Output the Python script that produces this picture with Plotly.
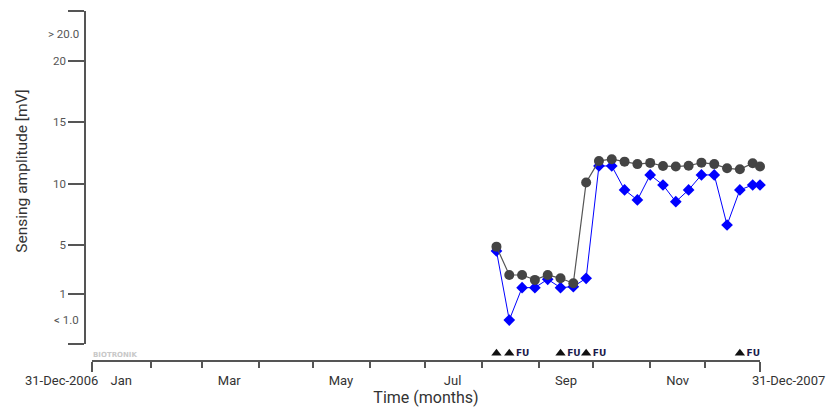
import plotly.graph_objects as go

# ---- data ----
dates = ["2007-08-09", "2007-08-16", "2007-08-23", "2007-08-30", "2007-09-06",
         "2007-09-13", "2007-09-20", "2007-09-27", "2007-10-04", "2007-10-11",
         "2007-10-18", "2007-10-25", "2007-11-01", "2007-11-08", "2007-11-15",
         "2007-11-22", "2007-11-29", "2007-12-06", "2007-12-13", "2007-12-20",
         "2007-12-27", "2007-12-31"]
gray_vals = [4.88, 2.57, 2.57, 2.17, 2.57, 2.3, 1.9, 10.1, 11.86, 12.0, 11.8,
             11.6, 11.7, 11.45, 11.4, 11.47, 11.72, 11.6, 11.26, 11.18, 11.67, 11.4]
blue_vals = [4.53, 0.5, 1.54, 1.54, 2.22, 1.54, 1.62, 2.3, 11.45, 11.45, 9.5,
             8.68, 10.72, 9.9, 8.54, 9.5, 10.72, 10.72, 6.64, 9.5, 9.9, 9.9]

fu_dates = ["2007-08-09", "2007-08-16", "2007-09-13", "2007-09-27", "2007-12-20"]
fu_labels = ["", "FU", "FU", "FU", "FU"]

y_tick_vals = [1, 5, 10, 15, 20]
y_tick_text = ["1", "5", "10", "15", "20"]
LOW_ROW, LOW_TEXT = -1.1, "< 1.0"
HIGH_ROW, HIGH_TEXT = 22.2, "> 20.0"
Y_MIN, Y_MAX = -3.05, 24.07

x_start, x_end = "2006-12-31", "2007-12-31"
x_start_text, x_end_text = "31-Dec-2006", "31-Dec-2007"
month_starts = ["2007-02-01", "2007-03-01", "2007-04-01", "2007-05-01", "2007-06-01",
                "2007-07-01", "2007-08-01", "2007-09-01", "2007-10-01", "2007-11-01",
                "2007-12-01"]
month_label_dates = ["2007-01-16", "2007-03-16", "2007-05-16", "2007-07-16",
                     "2007-09-16", "2007-11-16"]
month_labels = ["Jan", "Mar", "May", "Jul", "Sep", "Nov"]


def row(v):
    if v < 1:
        return LOW_ROW
    if v > 20:
        return HIGH_ROW
    return v


FONT = "Roboto"
AX = "#555555"

fig = go.Figure()
fig.add_trace(go.Scatter(
    x=dates, y=[row(v) for v in blue_vals], mode="lines+markers",
    line=dict(color="#0000ff", width=1),
    marker=dict(symbol="diamond", size=9, color="#0000ff"),
    xaxis="x", yaxis="y", showlegend=False, cliponaxis=False))
fig.add_trace(go.Scatter(
    x=dates, y=[row(v) for v in gray_vals], mode="lines+markers",
    line=dict(color="#555555", width=1.2),
    marker=dict(symbol="circle", size=10, color="#444444"),
    xaxis="x", yaxis="y", showlegend=False, cliponaxis=False))
fig.add_trace(go.Scatter(
    x=fu_dates, y=[0.45] * len(fu_dates), mode="markers+text",
    text=[f"<b>{t}</b>" if t else "" for t in fu_labels],
    textposition="middle right",
    textfont=dict(family="DejaVu Sans", size=9, color="#1a1a4a"),
    marker=dict(symbol="triangle-up", size=9, color="#111111"),
    xaxis="x", yaxis="y3", showlegend=False, cliponaxis=False))
# carrier trace so the month-label axis is rendered
fig.add_trace(go.Scatter(
    x=[x_start, x_end], y=[None, None], mode="markers",
    xaxis="x2", yaxis="y", showlegend=False, hoverinfo="skip"))

L, R, T, B = 85, 70, 11, 50
W, H = 830, 411
pw, ph = W - L - R, H - T - B
xd0 = 7 / pw
yd0 = 17 / ph

fig.update_layout(
    width=W, height=H, margin=dict(l=L, r=R, t=T, b=B, autoexpand=False),
    paper_bgcolor="white", plot_bgcolor="white",
    font=dict(family=FONT, color="#444444"),
    xaxis=dict(
        type="date", domain=[xd0, 1], range=[x_start, x_end], automargin=False,
        anchor="free", position=0, showline=True, linecolor=AX, linewidth=1.5,
        showgrid=False, zeroline=False,
        tickmode="array", tickvals=[x_start, x_end], ticks="outside",
        ticklen=10, tickwidth=1.5, tickcolor=AX, showticklabels=False,
        minor=dict(tickmode="array", tickvals=month_starts, ticks="outside",
                   ticklen=6, tickwidth=1.5, tickcolor=AX, showgrid=False),
    ),
    xaxis2=dict(
        type="date", domain=[xd0, 1], range=[x_start, x_end], overlaying="x",
        anchor="free", position=0, side="bottom", showline=False, showgrid=False,
        zeroline=False, automargin=False,
        tickmode="array", tickvals=month_label_dates, ticktext=month_labels,
        ticks="", ticklabelstandoff=10,
        tickfont=dict(family=FONT, size=13, color="#333333"),
        title=dict(text="Time (months)", standoff=3,
                   font=dict(family=FONT, size=16, color="#333333")),
    ),
    yaxis=dict(
        domain=[yd0, 1], range=[Y_MIN, Y_MAX], anchor="free", position=0,
        showline=True, linecolor=AX, linewidth=1.5, showgrid=False, zeroline=False,
        automargin=False,
        tickmode="array", tickvals=[Y_MIN] + y_tick_vals + [Y_MAX],
        ticktext=[""] + y_tick_text + [""],
        ticks="outside", ticklen=16, tickwidth=1.5, tickcolor=AX,
        tickfont=dict(family=FONT, size=11.5, color="#555555"),
    ),
    yaxis3=dict(domain=[0, yd0], range=[0, 1], visible=False, anchor="x"),
)

fig.add_annotation(xref="paper", yref="y", x=0, y=HIGH_ROW, text=HIGH_TEXT,
                   xanchor="right", yanchor="middle", xshift=-4, showarrow=False,
                   font=dict(family=FONT, size=11.5, color="#555555"))
fig.add_annotation(xref="paper", yref="y", x=0, y=LOW_ROW, text=LOW_TEXT,
                   xanchor="right", yanchor="middle", xshift=-4, showarrow=False,
                   font=dict(family=FONT, size=11.5, color="#555555"))
fig.add_annotation(xref="x", yref="paper", x=x_start, y=0, text=x_start_text,
                   xanchor="right", yanchor="top", xshift=8, yshift=-10,
                   showarrow=False, font=dict(family=FONT, size=13, color="#333333"))
fig.add_annotation(xref="x", yref="paper", x=x_end, y=0, text=x_end_text,
                   xanchor="left", yanchor="top", xshift=-10, yshift=-10,
                   showarrow=False, font=dict(family=FONT, size=13, color="#333333"))
fig.add_annotation(xref="x", yref="paper", x=x_start, y=0, text="<b>BIOTRONIK</b>",
                   xanchor="left", yanchor="bottom", xshift=-1, yshift=0,
                   showarrow=False, font=dict(family="DejaVu Sans", size=7, color="#c8c8c8"))
fig.add_annotation(xref="paper", yref="paper", x=-(L - 21.7) / pw, y=(H - B - 171) / ph,
                   text="Sensing amplitude [mV]", textangle=-90,
                   xanchor="center", yanchor="middle", showarrow=False,
                   font=dict(family=FONT, size=15.5, color="#333333"))

fig.write_html("out.html")
